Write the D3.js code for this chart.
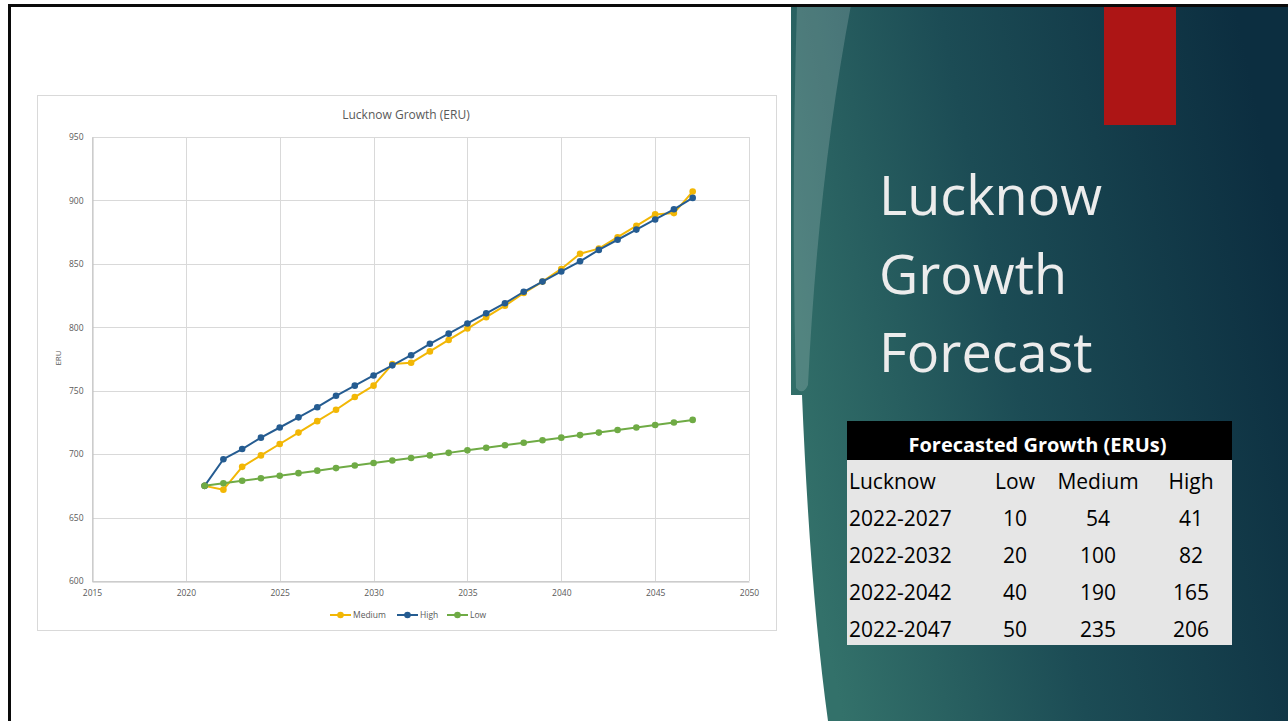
<!DOCTYPE html>
<html>
<head>
<meta charset="utf-8">
<script src="https://cdn.jsdelivr.net/npm/d3@7"></script>
<style>
  html, body { margin: 0; padding: 0; background: #ffffff; }
  svg { display: block; }
</style>
</head>
<body>
<svg id="slide" width="1288" height="721"></svg>
<script>
// ---- Data ----
const years = [2021, 2022, 2023, 2024, 2025, 2026, 2027, 2028, 2029, 2030, 2031, 2032, 2033, 2034,
               2035, 2036, 2037, 2038, 2039, 2040, 2041, 2042, 2043, 2044, 2045, 2046, 2047];
const mediumValues = [675, 672, 690, 699, 708, 717, 726, 735, 745, 754, 771, 772, 781, 790,
                      799, 808, 817, 827, 836, 846, 858, 862, 871, 880, 889, 890, 907];
const highValues   = [675, 696, 704, 713, 721, 729, 737, 746, 754, 762, 770, 778, 787, 795,
                      803, 811, 819, 828, 836, 844, 852, 861, 869, 877, 885, 893, 902];
const lowValues    = [675, 677, 679, 681, 683, 685, 687, 689, 691, 693, 695, 697, 699, 701,
                      703, 705, 707, 709, 711, 713, 715, 717, 719, 721, 723, 725, 727];
const seriesNames  = ["Medium", "High", "Low"];
const xTicks = [2015, 2020, 2025, 2030, 2035, 2040, 2045, 2050];
const yTicks = [600, 650, 700, 750, 800, 850, 900, 950];

const tableTitle   = "Forecasted Growth (ERUs)";
const tableHeader  = ["Lucknow", "Low", "Medium", "High"];
const tablePeriods = ["2022-2027", "2022-2032", "2022-2042", "2022-2047"];
const tableLow     = [10, 20, 40, 50];
const tableMedium  = [54, 100, 190, 235];
const tableHigh    = [41, 82, 165, 206];
const slideTitle   = ["Lucknow", "Growth", "Forecast"];

const seriesColors = { Medium: "#f2b705", High: "#255c91", Low: "#6fab45" };
const seriesValues = { Medium: mediumValues, High: highValues, Low: lowValues };

const svg = d3.select("#slide");
const defs = svg.append("defs");

// ---- Right-hand panel ----
const grad = defs.append("linearGradient").attr("id", "panelGrad")
  .attr("x1", 0).attr("y1", 0.65).attr("x2", 1).attr("y2", 0.35);
grad.append("stop").attr("offset", 0).attr("stop-color", "#33716a");
grad.append("stop").attr("offset", 0.45).attr("stop-color", "#1c4c55");
grad.append("stop").attr("offset", 1).attr("stop-color", "#0c2e40");

svg.append("path")
  .attr("d", "M791,5 L1288,5 L1288,721 L828,721 Q810,590 802,395 L791,395 Z")
  .attr("fill", "url(#panelGrad)");

// translucent sheen strip
svg.append("path")
  .attr("d", "M797,5 L851,5 Q818,180 808,385 Q803,396 796,388 Q791,200 797,5 Z")
  .attr("fill", "#ffffff").attr("opacity", 0.17);

// red accent block
svg.append("rect").attr("x", 1104).attr("y", 6).attr("width", 72).attr("height", 119)
  .attr("fill", "#ad1515");

// slide title
svg.append("g").selectAll("text").data(slideTitle).join("text")
  .attr("x", 879)
  .attr("y", (d, i) => 215 + i * 78.5)
  .attr("fill", "#ececec")
  .attr("font-family", "'Open Sans', sans-serif")
  .attr("font-weight", 400)
  .attr("font-size", 54)
  .text(d => d);

// ---- Table ----
const tX = 847, tW = 385, tY = 421, headH = 39, rowH = 37;
const tbl = svg.append("g");
tbl.append("rect").attr("x", tX).attr("y", tY).attr("width", tW).attr("height", headH).attr("fill", "#000000");
tbl.append("rect").attr("x", tX).attr("y", tY + headH).attr("width", tW).attr("height", rowH * 5).attr("fill", "#e6e6e6");
tbl.append("text").attr("x", tX + tW / 2 - 2).attr("y", tY + 31)
  .attr("text-anchor", "middle").attr("fill", "#ffffff")
  .attr("font-family", "'Open Sans', sans-serif").attr("font-weight", 700).attr("font-size", 20)
  .text(tableTitle);

const colCenters = [null, 1015, 1098, 1191];
const rows = [tableHeader].concat(tablePeriods.map((p, i) => [p, tableLow[i], tableMedium[i], tableHigh[i]]));
rows.forEach((r, ri) => {
  const by = tY + headH + ri * rowH + 29;
  r.forEach((cell, ci) => {
    tbl.append("text")
      .attr("x", ci === 0 ? 849 : colCenters[ci])
      .attr("y", by)
      .attr("text-anchor", ci === 0 ? "start" : "middle")
      .attr("fill", "#000000")
      .attr("font-family", "'Open Sans', sans-serif")
      .attr("font-size", 21)
      .text(cell);
  });
});

// ---- Chart ----
const chartG = svg.append("g");
chartG.append("rect").attr("x", 37.5).attr("y", 95.5).attr("width", 739).attr("height", 535)
  .attr("fill", "#ffffff").attr("stroke", "#d9d9d9").attr("stroke-width", 1);

const x = d3.scaleLinear().domain([2015, 2050]).range([92, 749]);
const y = d3.scaleLinear().domain([600, 950]).range([581, 137]);

// gridlines
chartG.append("g").selectAll("line").data(xTicks).join("line")
  .attr("x1", d => Math.round(x(d)) + 0.5).attr("x2", d => Math.round(x(d)) + 0.5)
  .attr("y1", y(950)).attr("y2", y(600))
  .attr("stroke", "#d9d9d9").attr("stroke-width", 1);
chartG.append("g").selectAll("line").data(yTicks).join("line")
  .attr("x1", x(2015)).attr("x2", x(2050))
  .attr("y1", d => Math.round(y(d)) + 0.5).attr("y2", d => Math.round(y(d)) + 0.5)
  .attr("stroke", "#d9d9d9").attr("stroke-width", 1);

// axes
const xAxis = d3.axisBottom(x).tickValues(xTicks).tickSize(0).tickPadding(8).tickFormat(d3.format("d"));
const yAxis = d3.axisLeft(y).tickValues(yTicks).tickSize(0).tickPadding(9).tickFormat(d3.format("d"));
const gx = chartG.append("g").attr("transform", `translate(0,${Math.round(y(600)) + 0.5})`).call(xAxis);
const gy = chartG.append("g").attr("transform", `translate(${Math.round(x(2015)) + 0.5},0)`).call(yAxis);
[gx, gy].forEach(g => {
  g.select(".domain").attr("stroke", "#bfbfbf");
  g.selectAll("text").attr("fill", "#595959").attr("font-family", "'Open Sans', sans-serif").attr("font-size", 8.5);
});

// axis title
chartG.append("text")
  .attr("transform", "translate(61,358) rotate(-90)")
  .attr("text-anchor", "middle").attr("fill", "#595959")
  .attr("font-family", "'Open Sans', sans-serif").attr("font-size", 8)
  .text("ERU");

// chart title
chartG.append("text").attr("x", 406).attr("y", 119)
  .attr("text-anchor", "middle").attr("fill", "#595959")
  .attr("font-family", "'Open Sans', sans-serif").attr("font-size", 12)
  .text("Lucknow Growth (ERU)");

// series
const line = d3.line().x(d => x(d[0])).y(d => y(d[1]));
seriesNames.forEach(name => {
  const pts = years.map((yr, i) => [yr, seriesValues[name][i]]);
  const g = chartG.append("g");
  g.append("path").datum(pts).attr("d", line)
    .attr("fill", "none").attr("stroke", seriesColors[name]).attr("stroke-width", 2)
    .attr("stroke-linejoin", "round");
  g.selectAll("circle").data(pts).join("circle")
    .attr("cx", d => x(d[0])).attr("cy", d => y(d[1])).attr("r", 3.3)
    .attr("fill", seriesColors[name]);
});

// legend
const legendX = [330, 397, 447];
const legend = chartG.append("g").attr("transform", "translate(0,615)");
seriesNames.forEach((name, i) => {
  const lg = legend.append("g").attr("transform", `translate(${legendX[i]},0)`);
  lg.append("line").attr("x1", 0).attr("x2", 21).attr("y1", 0).attr("y2", 0)
    .attr("stroke", seriesColors[name]).attr("stroke-width", 2);
  lg.append("circle").attr("cx", 10.5).attr("cy", 0).attr("r", 3.3).attr("fill", seriesColors[name]);
  lg.append("text").attr("x", 23).attr("y", 3)
    .attr("fill", "#595959").attr("font-family", "'Open Sans', sans-serif").attr("font-size", 8.5)
    .text(name);
});

// slide frame edges
svg.append("rect").attr("x", 8).attr("y", 4).attr("width", 1280).attr("height", 3).attr("fill", "#0a0a0a");
svg.append("rect").attr("x", 8).attr("y", 4).attr("width", 3).attr("height", 717).attr("fill", "#0a0a0a");
</script>
</body>
</html>
